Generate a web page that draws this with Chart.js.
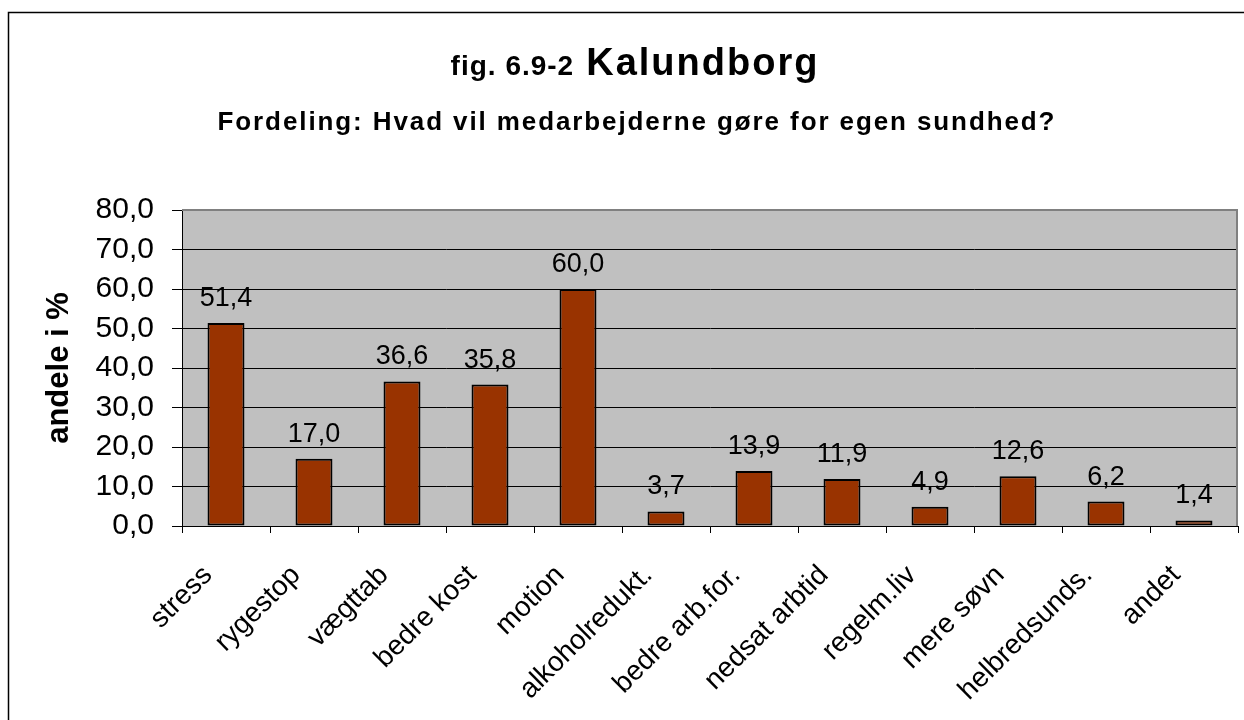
<!DOCTYPE html>
<html>
<head>
<meta charset="utf-8">
<title>fig. 6.9-2 Kalundborg</title>
<script src="https://cdn.jsdelivr.net/npm/chart.js"></script>
<style>
  html, body { margin: 0; padding: 0; background: #fff; }
  canvas { display: block; }
</style>
</head>
<body>
<canvas id="chart" width="1244" height="720"></canvas>
<script>
  // categories and shares (%)
  const categories = ['stress', 'rygestop', 'vægttab', 'bedre kost', 'motion', 'alkoholredukt.',
    'bedre arb.for.', 'nedsat arbtid', 'regelm.liv', 'mere søvn', 'helbredsunds.', 'andet'];
  const shares = [51.4, 17.0, 36.6, 35.8, 60.0, 3.7, 13.9, 11.9, 4.9, 12.6, 6.2, 1.4];
  const yTicks = [0, 10, 20, 30, 40, 50, 60, 70, 80];

  const FONT = '"Liberation Sans", Arial, Helvetica, sans-serif';
  const comma = v => Number(v).toFixed(1).replace('.', ',');

  // frame, grey plot background and the two-size heading
  const decor = {
    id: 'decor',
    beforeDraw(chart) {
      const { ctx, chartArea: a } = chart;
      ctx.save();
      ctx.fillStyle = '#fff';
      ctx.fillRect(0, 0, chart.width, chart.height);
      ctx.strokeStyle = '#000';
      ctx.lineWidth = 1.5;
      ctx.strokeRect(8.5, 12.5, 1256, 730);
      ctx.fillStyle = '#c0c0c0';
      ctx.fillRect(a.left, a.top, a.right - a.left, a.bottom - a.top);
      ctx.restore();
    },
    beforeDatasetsDraw(chart) {
      const { ctx, chartArea: a } = chart;
      ctx.save();
      ctx.strokeStyle = '#808080';
      ctx.lineWidth = 2;
      ctx.beginPath();
      ctx.moveTo(a.left, a.top);
      ctx.lineTo(a.right - 1, a.top);
      ctx.lineTo(a.right - 1, a.bottom);
      ctx.stroke();
      ctx.restore();
    },
    afterDraw(chart) {
      const { ctx } = chart;
      const cx = 634;
      ctx.save();
      ctx.fillStyle = '#000';
      ctx.textBaseline = 'alphabetic';
      ctx.textAlign = 'left';

      const partA = 'fig. 6.9-2';
      const partB = 'Kalundborg';
      ctx.font = 'bold 28px ' + FONT;
      ctx.letterSpacing = '1px';
      const wA = ctx.measureText(partA).width - 1;
      ctx.font = 'bold 38px ' + FONT;
      ctx.letterSpacing = '2px';
      const wB = ctx.measureText(partB).width - 2;
      const gap = 13;
      let x = cx - (wA + gap + wB) / 2;
      ctx.font = 'bold 28px ' + FONT;
      ctx.letterSpacing = '1px';
      ctx.fillText(partA, x, 75);
      ctx.font = 'bold 38px ' + FONT;
      ctx.letterSpacing = '2px';
      ctx.fillText(partB, x + wA + gap, 75);

      const sub = 'Fordeling: Hvad vil medarbejderne gøre for egen sundhed?';
      ctx.font = 'bold 26px ' + FONT;
      ctx.letterSpacing = '1.9px';
      const wS = ctx.measureText(sub).width - 1.9;
      ctx.fillText(sub, cx + 2 - wS / 2, 130);
      ctx.restore();
    }
  };

  // value above each bar, decimal comma
  const barValues = {
    id: 'barValues',
    afterDatasetsDraw(chart) {
      const { ctx } = chart;
      const meta = chart.getDatasetMeta(0);
      ctx.save();
      ctx.font = '27px ' + FONT;
      ctx.fillStyle = '#000';
      ctx.textAlign = 'center';
      ctx.textBaseline = 'alphabetic';
      meta.data.forEach((bar, i) => {
        ctx.fillText(comma(shares[i]), bar.x, bar.y - 17);
      });
      ctx.restore();
    }
  };

  new Chart(document.getElementById('chart'), {
    type: 'bar',
    data: {
      labels: categories,
      datasets: [{
        data: shares,
        backgroundColor: '#993300',
        borderColor: '#000',
        borderWidth: 2,
        borderSkipped: false,
        barPercentage: 0.42,
        categoryPercentage: 1
      }]
    },
    options: {
      responsive: false,
      animation: false,
      events: [],
      layout: { padding: { left: 8, right: 6, top: 210, bottom: 0 } },
      plugins: {
        legend: { display: false },
        title: { display: false },
        tooltip: { enabled: false }
      },
      scales: {
        x: {
          grid: { offset: true, drawOnChartArea: false, drawTicks: true, tickLength: 7, color: '#000', lineWidth: 1 },
          border: { color: '#000', width: 1 },
          ticks: {
            color: '#000',
            font: { family: FONT, size: 28, lineHeight: 1 },
            maxRotation: 45,
            minRotation: 45,
            autoSkip: false,
            padding: 28,
            labelOffset: -18
          },
          afterFit(scale) { scale.height = 194; }
        },
        y: {
          min: 0,
          max: 80,
          afterBuildTicks(scale) { scale.ticks = yTicks.map(v => ({ value: v })); },
          grid: { color: '#000', lineWidth: 1, tickLength: 10 },
          border: { color: '#000', width: 1 },
          ticks: {
            color: '#000',
            font: { family: FONT, size: 30 },
            padding: 18,
            callback: v => comma(v)
          },
          title: {
            display: true,
            text: 'andele i %',
            color: '#000',
            font: { family: FONT, size: 31, weight: 'bold', lineHeight: 1.2 },
            padding: { top: 33, bottom: 4 }
          },
          afterFit(scale) { scale.width = 174; }
        }
      }
    },
    plugins: [decor, barValues]
  });
</script>
</body>
</html>
